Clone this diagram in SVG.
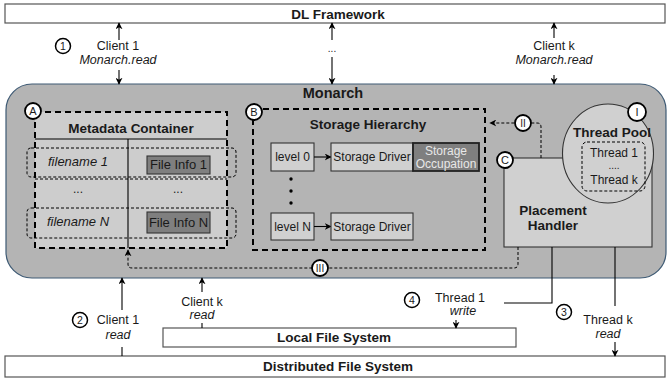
<svg xmlns="http://www.w3.org/2000/svg" width="668" height="379" viewBox="0 0 668 379">
  <defs>
    <marker id="ah" viewBox="0 0 10 10" refX="9" refY="5" markerWidth="7" markerHeight="7" markerUnits="userSpaceOnUse" orient="auto">
      <path d="M0,0 L10,5 L0,10 L3,5 Z" fill="#000"/>
    </marker>
    <style>
      text { font-family: "Liberation Sans", Arial, sans-serif; fill: #1a1a1a; }
      .b { font-weight: bold; }
      .i { font-style: italic; }
      .bar { fill: #fff; stroke: #555; stroke-width: 1.2; }
      .line { fill: none; stroke: #000; stroke-width: 1.1; }
      .arr { fill: none; stroke: #000; stroke-width: 1.1; marker-end: url(#ah); }
      .dash { fill: none; stroke: #000; stroke-width: 1; stroke-dasharray: 3 2; }
      .bigdash { fill: #cdcdcd; stroke: #000; stroke-width: 2; stroke-dasharray: 6 4; }
      .box { fill: #d0d0d0; stroke: #333; stroke-width: 1.1; }
      .dark { fill: #7f7f7f; stroke: #333; stroke-width: 1.1; }
      .tag { fill: #fff; stroke: #000; stroke-width: 1.8; }
      .num { fill: #fff; stroke: #000; stroke-width: 1.5; }
    </style>
  </defs>

  <!-- top and bottom layers -->
  <g id="dl-framework">
    <rect class="bar" x="5" y="4" width="660" height="19"/>
    <text class="b" x="338" y="18.5" font-size="13.5" text-anchor="middle">DL Framework</text>
  </g>
  <g id="distributed-fs">
    <rect class="bar" x="5" y="356" width="660" height="21"/>
    <text class="b" x="338" y="371" font-size="13.5" text-anchor="middle">Distributed File System</text>
  </g>
  <g id="local-fs">
    <rect class="bar" x="163" y="328" width="353" height="19"/>
    <text class="b" x="334" y="342" font-size="13.5" text-anchor="middle">Local File System</text>
  </g>

  <!-- Monarch container -->
  <g id="monarch">
    <rect x="6" y="84" width="660" height="194" rx="26" ry="26" fill="#b4b4b4" stroke="#3e5a74" stroke-width="1.2"/>
    <text class="b" x="333" y="98" font-size="14.5" text-anchor="middle">Monarch</text>
  </g>

  <!-- A: metadata container -->
  <g id="metadata-container">
    <rect class="bigdash" x="35" y="112" width="192" height="136"/>
    <text class="b" x="131" y="133" font-size="13.5" text-anchor="middle">Metadata Container</text>
    <line class="line" x1="35" y1="139" x2="227" y2="139"/>
    <line class="line" x1="128" y1="139" x2="128" y2="248"/>
    <rect class="dash" x="27" y="148" width="209" height="29" rx="4"/>
    <line class="dash" x1="35" y1="179" x2="227" y2="179"/>
    <rect class="dash" x="27" y="208" width="209" height="30" rx="4"/>
    <text class="i" x="78" y="166" font-size="13" text-anchor="middle">filename 1</text>
    <rect class="dark" x="147" y="156" width="63" height="18"/>
    <text x="178.5" y="169" font-size="13" text-anchor="middle">File Info 1</text>
    <text x="78" y="193" font-size="12" text-anchor="middle">...</text>
    <text x="178" y="193" font-size="12" text-anchor="middle">...</text>
    <text class="i" x="78" y="226" font-size="13" text-anchor="middle">filename N</text>
    <rect class="dark" x="147" y="212" width="63" height="21"/>
    <text x="178.5" y="227" font-size="13" text-anchor="middle">File Info N</text>
    <circle class="tag" cx="33" cy="111" r="8"/>
    <text x="33" y="115" font-size="11" text-anchor="middle">A</text>
  </g>

  <!-- B: storage hierarchy -->
  <g id="storage-hierarchy">
    <rect class="bigdash" x="253" y="109" width="232" height="141" style="fill:#b4b4b4"/>
    <text class="b" x="368" y="129" font-size="13.5" text-anchor="middle">Storage Hierarchy</text>
    <rect class="box" x="271" y="143" width="43" height="28"/>
    <text x="292.5" y="161" font-size="12" text-anchor="middle">level 0</text>
    <line class="arr" x1="314" y1="157" x2="331" y2="157"/>
    <rect class="box" x="331" y="143" width="82" height="28"/>
    <text x="372" y="161" font-size="12" text-anchor="middle">Storage Driver</text>
    <rect x="413" y="143" width="66" height="28" fill="#7f7f7f" stroke="#222" stroke-width="1.8"/>
    <text x="446" y="155" font-size="12" text-anchor="middle" style="fill:#e8e8e8">Storage</text>
    <text x="446" y="168" font-size="12" text-anchor="middle" style="fill:#e8e8e8">Occupation</text>
    <circle cx="291" cy="179" r="1.7" fill="#000"/>
    <circle cx="291" cy="191" r="1.7" fill="#000"/>
    <circle cx="291" cy="203" r="1.7" fill="#000"/>
    <rect class="box" x="271" y="213" width="43" height="27"/>
    <text x="292.5" y="231" font-size="12" text-anchor="middle">level N</text>
    <line class="arr" x1="314" y1="226.5" x2="331" y2="226.5"/>
    <rect class="box" x="331" y="213" width="82" height="27"/>
    <text x="372" y="231" font-size="12" text-anchor="middle">Storage Driver</text>
    <circle class="tag" cx="254" cy="112" r="8"/>
    <text x="254" y="116" font-size="11" text-anchor="middle">B</text>
  </g>

  <!-- C: placement handler -->
  <g id="placement-handler">
    <rect class="box" x="504" y="158" width="148" height="89"/>
    <text class="b" x="553" y="215" font-size="13.5" text-anchor="middle">Placement</text>
    <text class="b" x="553" y="230" font-size="13.5" text-anchor="middle">Handler</text>
    <circle class="tag" cx="505" cy="160" r="8"/>
    <text x="505" y="164" font-size="11" text-anchor="middle">C</text>
  </g>

  <!-- I: thread pool -->
  <g id="thread-pool">
    <ellipse cx="608" cy="153.5" rx="45.5" ry="49.5" fill="#d0d0d0" stroke="#333" stroke-width="1.1"/>
    <text class="b" x="612" y="137" font-size="13.5" text-anchor="middle">Thread Pool</text>
    <rect class="dash" x="582" y="142" width="63" height="49" rx="5"/>
    <text x="614" y="157" font-size="12" text-anchor="middle">Thread 1</text>
    <text x="614" y="169" font-size="10" text-anchor="middle">....</text>
    <text x="614" y="184" font-size="12" text-anchor="middle">Thread k</text>
    <circle class="tag" cx="637" cy="112" r="9"/>
    <text x="637" y="116" font-size="11" text-anchor="middle">I</text>
  </g>

  <!-- connectors -->
  <g id="connectors">
    <!-- client 1 / monarch.read -->
    <line class="arr" x1="119" y1="40" x2="119" y2="23"/>
    <line class="arr" x1="119" y1="70" x2="119" y2="84"/>
    <!-- middle clients -->
    <line class="arr" x1="332" y1="40" x2="332" y2="23"/>
    <line class="arr" x1="332" y1="57" x2="332" y2="84"/>
    <!-- client k / monarch.read -->
    <line class="arr" x1="554" y1="38" x2="554" y2="23"/>
    <line class="arr" x1="554" y1="75" x2="554" y2="84"/>
    <!-- II: handler to storage hierarchy -->
    <path class="dash" d="M541,158 V127 Q541,123 537,123 H490" marker-end="url(#ah)"/>
    <!-- III: handler to metadata container -->
    <path class="dash" d="M518,247 V264 Q518,268 514,268 H132 Q128,268 128,264 V250" marker-end="url(#ah)"/>
    <!-- client 1 read from DFS -->
    <line class="line" x1="122" y1="347" x2="122" y2="356"/>
    <line class="arr" x1="122" y1="310" x2="122" y2="278"/>
    <!-- client k read from local FS -->
    <line class="line" x1="202" y1="323" x2="202" y2="328"/>
    <line class="arr" x1="202" y1="292" x2="202" y2="278"/>
    <!-- thread 1 write -->
    <path class="line" d="M552,247 V303 H504"/>
    <line class="arr" x1="456" y1="320" x2="456" y2="328"/>
    <!-- thread k read -->
    <line class="line" x1="615" y1="247" x2="615" y2="306"/>
    <line class="arr" x1="615" y1="342" x2="615" y2="356"/>
  </g>

  <g id="labels">
    <circle class="num" cx="63" cy="46" r="7.5"/>
    <text x="63" y="50" font-size="10.5" text-anchor="middle">1</text>
    <text x="118" y="50" font-size="12.5" text-anchor="middle">Client 1</text>
    <text class="i" x="118" y="64" font-size="12.5" text-anchor="middle">Monarch.read</text>
    <text x="332" y="52" font-size="10" text-anchor="middle">...</text>
    <text x="554" y="50" font-size="12.5" text-anchor="middle">Client k</text>
    <text class="i" x="554" y="64" font-size="12.5" text-anchor="middle">Monarch.read</text>

    <circle class="tag" cx="523" cy="123" r="8"/>
    <text x="523" y="127" font-size="10" text-anchor="middle">II</text>
    <circle class="tag" cx="320" cy="268" r="8"/>
    <text x="320" y="272" font-size="10" text-anchor="middle">III</text>

    <circle class="num" cx="80" cy="320" r="7.5"/>
    <text x="80" y="324" font-size="10.5" text-anchor="middle">2</text>
    <text x="118" y="324" font-size="12.5" text-anchor="middle">Client 1</text>
    <text class="i" x="118" y="339" font-size="12.5" text-anchor="middle">read</text>
    <text x="202" y="306" font-size="12.5" text-anchor="middle">Client k</text>
    <text class="i" x="202" y="319" font-size="12.5" text-anchor="middle">read</text>

    <circle class="num" cx="412" cy="300" r="7.5"/>
    <text x="412" y="304" font-size="10.5" text-anchor="middle">4</text>
    <text x="460" y="302" font-size="12.5" text-anchor="middle">Thread 1</text>
    <text class="i" x="463" y="315" font-size="12.5" text-anchor="middle">write</text>

    <circle class="num" cx="564" cy="312" r="7.5"/>
    <text x="564" y="316" font-size="10.5" text-anchor="middle">3</text>
    <text x="608" y="324" font-size="12.5" text-anchor="middle">Thread k</text>
    <text class="i" x="608" y="338" font-size="12.5" text-anchor="middle">read</text>
  </g>
</svg>
